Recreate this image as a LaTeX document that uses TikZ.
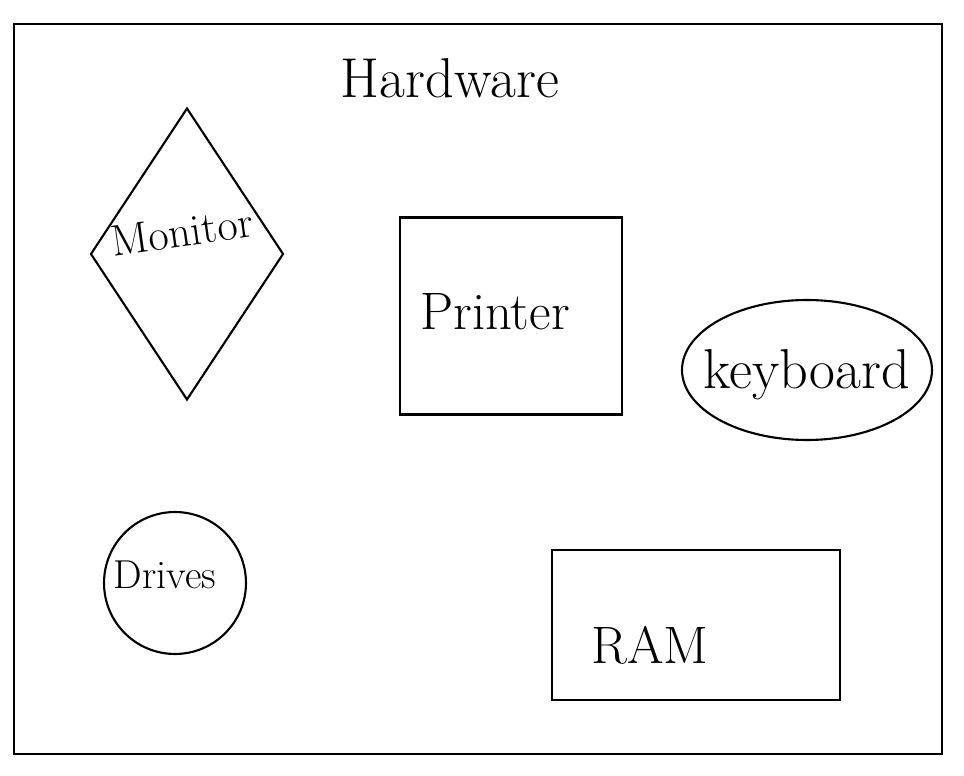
\documentclass[tikz,border=0pt]{standalone}
\usepackage{fontspec}
\usetikzlibrary{calc,shapes.geometric,positioning}

\newcommand{\txtsize}[1]{\fontsize{#1}{#1}\selectfont}

\begin{document}
\begin{tikzpicture}[x=0.02cm, y=-0.02cm,
	outline/.style={draw, line width=1.2pt, inner sep=0pt},
	txt/.style={inner sep=0pt}]
	\useasboundingbox (0,0) rectangle (964,776);
	\node[outline, minimum width=18.56cm, minimum height=14.62cm] (frame) at (478,389) {};
	\node[txt] (title) at (450,78) {\txtsize{32}Hardware};

	% shapes
	\node[outline, diamond, minimum width=3.86cm, minimum height=5.84cm] (monitor) at (187,254) {};
	\node[outline, rectangle, minimum width=4.44cm, minimum height=3.94cm] (printer) at (511,316) {};
	\node[outline, ellipse, minimum width=5cm, minimum height=2.8cm] (keyboard) at (807,370) {};
	\node[outline, circle, minimum size=2.84cm] (drives) at (175,583) {};
	\node[outline, rectangle, minimum width=5.76cm, minimum height=3cm] (ram) at (696,625) {};

	% texts
	\node[txt, rotate=8] (monitortext) at ($(monitor) + (-5,-22)$) {\txtsize{25}Monitor};
	\node[txt] (printertext) at ($(printer) + (-16,-4)$) {\txtsize{30}Printer};
	\node[txt] (keyboardtext) at ($(keyboard) + (0,5)$) {\txtsize{32}keyboard};
	\node[txt] (drivestext) at ($(drives) + (-10,-8)$) {\txtsize{23}Drives};
	\node[txt] (ramtext) at ($(ram) + (-46,20)$) {\txtsize{30}RAM};

\end{tikzpicture}
\end{document}
